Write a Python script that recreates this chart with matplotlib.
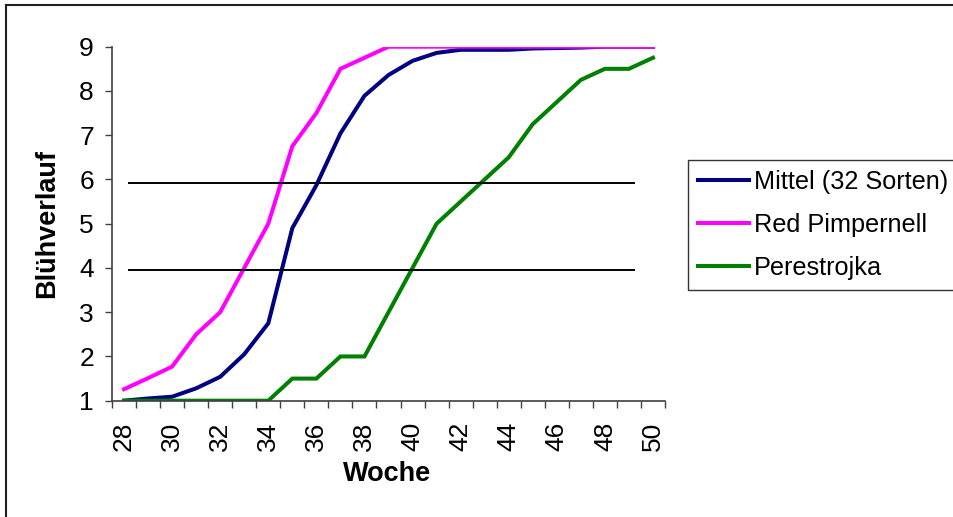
import matplotlib
matplotlib.use('Agg')
import matplotlib.pyplot as plt
from matplotlib.lines import Line2D
import numpy as np

plt.rcParams['font.family'] = ['Liberation Sans', 'DejaVu Sans']

# weeks 28..50
wochen = list(range(28, 51))
mittel = [1.0, 1.05, 1.09, 1.28, 1.54, 2.05, 2.75, 4.9, 5.87, 7.04, 7.89, 8.36,
          8.68, 8.86, 8.93, 8.93, 8.93, 8.96, 8.97, 8.98, 9.0, 9.0, 9.0]
red_pimpernell = [1.26, 1.51, 1.77, 2.5, 3.0, 4.0, 5.0, 6.75, 7.5, 8.5, 8.75, 9.0,
                  9.0, 9.0, 9.0, 9.0, 9.0, 9.0, 9.0, 9.0, 9.0, 9.0, 9.0]
perestrojka = [1.0, 1.0, 1.0, 1.0, 1.0, 1.0, 1.0, 1.5, 1.5, 2.0, 2.0, 3.0,
               4.0, 5.0, 5.5, 6.0, 6.5, 7.25, 7.75, 8.25, 8.5, 8.5, 8.75]
serien = ['Mittel (32 Sorten)', 'Red Pimpernell', 'Perestrojka']
farben = ['#000080', '#ff00ff', '#008000']
# reference levels drawn across the chart
linien = [5.93, 3.95]

W, H = 954, 517
fig = plt.figure(figsize=(W / 100, H / 100), dpi=100)
ax = fig.add_axes([112 / W, 1 - 400.7 / H, 553 / W, 354 / H])

for ys, name, c in zip([mittel, red_pimpernell, perestrojka], serien, farben):
    ax.plot(wochen, ys, color=c, lw=2.9, label=name, solid_joinstyle='miter')

for y in linien:
    ax.plot([28.2, 49.2], [y, y], color='black', lw=1.4)

ax.set_xlim(27.5, 50.5)
ax.set_ylim(1, 9)
ax.set_yticks(range(1, 10))
ax.tick_params(axis='y', direction='out', length=5, width=1, color='#404040',
               labelsize=19, pad=8)

# category axis: marks between weeks, labels at every second week
ax.set_xticks(np.arange(27.5, 51, 1.0))
ax.set_xticklabels([])
ax.set_xticks(wochen[::2], minor=True)
ax.set_xticklabels([str(w) for w in wochen[::2]], minor=True, rotation=90)
ax.tick_params(axis='x', which='major', direction='out', length=5, width=1, color='#404040')
ax.tick_params(axis='x', which='minor', length=0, labelsize=19, pad=15)

for s in ['top', 'right']:
    ax.spines[s].set_visible(False)
for s in ['left', 'bottom']:
    ax.spines[s].set_color('#404040')
    ax.spines[s].set_linewidth(1.2)

fig.text(387.5 / W, 1 - 474 / H, 'Woche', ha='center', va='center',
         fontsize=19.5, fontweight='bold')
fig.text(47 / W, 1 - 224 / H, 'Blühverlauf', ha='center', va='center',
         rotation=90, fontsize=19.5, fontweight='bold')

leg = ax.legend(loc='upper left', bbox_to_anchor=(688 / W, 1 - 160 / H),
                bbox_transform=fig.transFigure, fontsize=18.2, frameon=True,
                fancybox=False, edgecolor='black', handlelength=2.0,
                handletextpad=0.2, labelspacing=0.75, borderpad=0.4,
                borderaxespad=0)
leg.get_frame().set_linewidth(1.0)

# chart area border (only left and top visible in the picture)
fig.add_artist(Line2D([6 / W, 6 / W], [0, 1 - 5 / H], transform=fig.transFigure,
                      color='#202020', lw=1.5))
fig.add_artist(Line2D([6 / W, 1], [1 - 5 / H, 1 - 5 / H], transform=fig.transFigure,
                      color='#202020', lw=1.5))

fig.savefig('out.png', dpi=100)
